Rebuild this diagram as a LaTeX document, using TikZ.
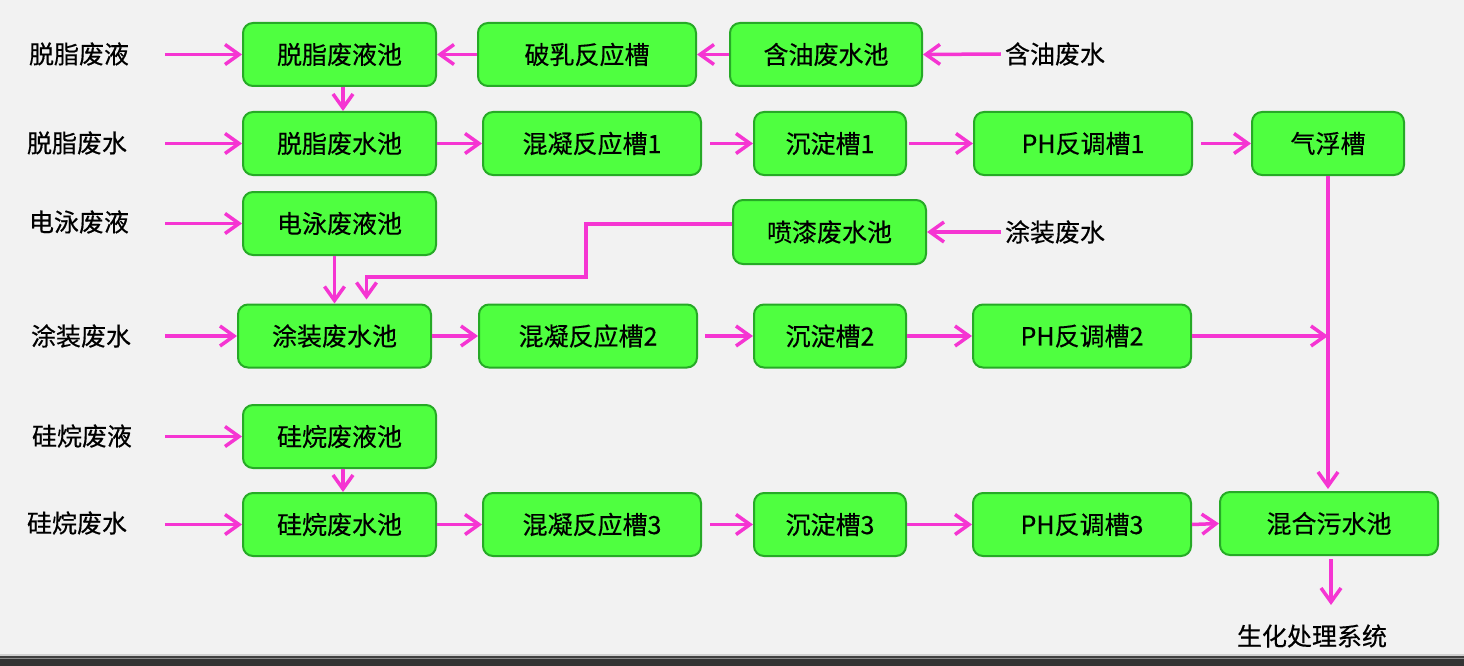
\documentclass[tikz,border=0pt]{standalone}
\usepackage{fontspec}
\setmainfont[FakeBold=0.4]{Noto Sans CJK SC}
\usetikzlibrary{arrows.meta,calc}
\definecolor{bgc}{HTML}{F2F2F2}
\definecolor{boxfill}{HTML}{4FFF40}
\definecolor{boxline}{HTML}{26AA26}
\definecolor{arrc}{HTML}{F535D2}
\tikzset{
  bx/.style={draw=boxline, fill=boxfill, line width=2pt, rounded corners=10pt,
    minimum height=63pt, inner sep=0pt, font=\fontsize{25pt}{30pt}\selectfont},
  lbl/.style={inner sep=0pt, font=\fontsize{25pt}{30pt}\selectfont},
  arr/.style={draw=arrc, line width=3.5pt, -{Straight Barb[length=14pt,width=20pt,line width=3.5pt]}},
  ln/.style={draw=arrc, line width=3.5pt}
}
\begin{document}
\begin{tikzpicture}[x=1pt,y=-1pt]
\fill[bgc] (0,0) rectangle (1464,666);
\useasboundingbox (0,0) rectangle (1464,666);
% bottom bar
\fill[black!18] (0,654) rectangle (1464,656);
\fill[black!75] (0,656) rectangle (1464,657.5);
\fill[black!45] (0,657.5) rectangle (1464,659);
\fill[black!80] (0,659) rectangle (1464,666);

% boxes
\node[bx, minimum width=193pt] (A1) at (339.5,54.5) {脱脂废液池};
\node[bx, minimum width=218pt] (A2) at (587,54.5) {破乳反应槽};
\node[bx, minimum width=192pt] (A3) at (826,54.5) {含油废水池};
\node[bx, minimum width=193pt] (B1) at (339.5,143.5) {脱脂废水池};
\node[bx, minimum width=218pt] (B2) at (592,143.5) {混凝反应槽1};
\node[bx, minimum width=152pt] (B3) at (830,143.5) {沉淀槽1};
\node[bx, minimum width=218pt] (B4) at (1083,143.5) {PH反调槽1};
\node[bx, minimum width=152pt] (B5) at (1328,143.5) {气浮槽};
\node[bx, minimum width=193pt] (C1) at (339.5,223.5) {电泳废液池};
\node[bx, minimum width=193pt, minimum height=64pt] (C2) at (829.5,232) {喷漆废水池};
\node[bx, minimum width=193pt] (D1) at (334.5,336) {涂装废水池};
\node[bx, minimum width=218pt] (D2) at (588,336) {混凝反应槽2};
\node[bx, minimum width=152pt] (D3) at (830,336) {沉淀槽2};
\node[bx, minimum width=218pt] (D4) at (1082,336) {PH反调槽2};
\node[bx, minimum width=193pt] (E1) at (339.5,436.5) {硅烷废液池};
\node[bx, minimum width=193pt] (F1) at (339.5,524.5) {硅烷废水池};
\node[bx, minimum width=218pt] (F2) at (592,524.5) {混凝反应槽3};
\node[bx, minimum width=152pt] (F3) at (830,524.5) {沉淀槽3};
\node[bx, minimum width=218pt] (F4) at (1082,524.5) {PH反调槽3};
\node[bx, minimum width=218pt] (F5) at (1329,523.5) {混合污水池};

% labels
\node[lbl] (L1) at (79,54) {脱脂废液};
\node[lbl] (L2) at (77,143) {脱脂废水};
\node[lbl] (L3) at (79,222) {电泳废液};
\node[lbl] (L4) at (81,336) {涂装废水};
\node[lbl] (L5) at (82,436) {硅烷废液};
\node[lbl] (L6) at (77,523) {硅烷废水};
\node[lbl] (R1) at (1055,54) {含油废水};
\node[lbl] (R2) at (1055,232) {涂装废水};
\node[lbl] (OUT) at (1312,636) {生化处理系统};

\coordinate (s1) at (165,54.5);
\coordinate (s2) at (165,143.5);
\coordinate (s3) at (165,223.5);
\coordinate (s4) at (165,336);
\coordinate (s5) at (165,436.5);
\coordinate (s6) at (165,524.5);
\coordinate (j4) at (1328,336);
\coordinate (k1) at (586,277);
\coordinate (o1) at (1331,605);

% left inputs
\draw[arr] (s1) -- (A1.west);
\draw[arr] (s2) -- (B1.west);
\draw[arr] (s3) -- (C1.west);
\draw[arr] (s4) -- (D1.west);
\draw[arr] (s5) -- (E1.west);
\draw[arr] (s6) -- (F1.west);
% right inputs
\draw[arr] ([xshift=-4pt]R1.west) -- (A3.east);
\draw[arr] ([xshift=-4pt]R2.west) -- (C2.east);

% row 1
\draw[arr] (A3.west) -- (A2.east);
\draw[arr] (A2.west) -- (A1.east);
\draw[arr] ([xshift=3.5pt]A1.south) -- ([xshift=3.5pt]B1.north);
% row 2
\draw[arr] (B1.east) -- (B2.west);
\draw[arr, shorten <=8pt] (B2.east) -- (B3.west);
\draw[arr, shorten <=2pt] (B3.east) -- (B4.west);
\draw[arr, shorten <=8pt] (B4.east) -- (B5.west);
% row 3/4
\draw[arr] (C1.south -| D1.north) -- (D1.north);
\draw[arr, shorten >=4pt] ([yshift=8pt]C2.west) -| (k1) -| ([xshift=32pt]D1.north);
\draw[arr] (D1.east) -- (D2.west);
\draw[arr, shorten <=7pt] (D2.east) -- (D3.west);
\draw[arr] (D3.east) -- (D4.west);
\draw[arr] (D4.east) -- (j4);
% row 5/6
\draw[arr] ([xshift=3.5pt]E1.south) -- ([xshift=3.5pt]F1.north);
\draw[arr] (F1.east) -- (F2.west);
\draw[arr, shorten <=8pt] (F2.east) -- (F3.west);
\draw[arr] (F3.east) -- (F4.west);
\draw[arr] (F4.east) -- (F5.west);
% collector
\draw[arr, shorten >=2pt] (B5.south) -- (B5.south |- F5.north);
\draw[arr, shorten <=3pt] (o1 |- F5.south) -- (o1);
\end{tikzpicture}
\end{document}
